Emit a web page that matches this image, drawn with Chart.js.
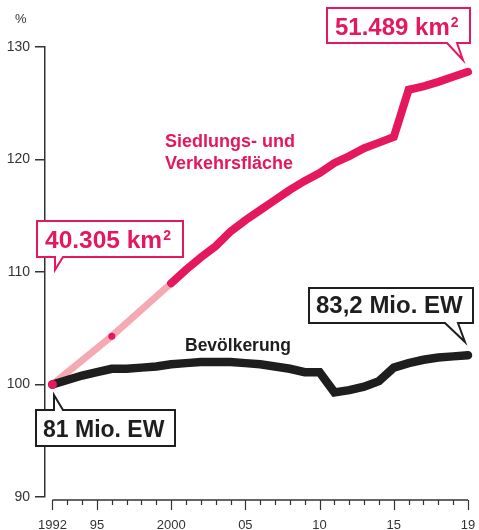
<!DOCTYPE html>
<html><head><meta charset="utf-8">
<script src="https://cdn.jsdelivr.net/npm/chart.js@4/dist/chart.umd.min.js"></script>
<style>html,body{margin:0;padding:0;background:#fff}#wrap{width:479px;height:530px}</style>
</head><body><div id="wrap"><canvas id="c" width="479" height="530"></canvas></div>
<script>
// ---- data (index 1992 = 100) ----
const popYears = [1992,1993,1994,1995,1996,1997,1998,1999,2000,2001,2002,2003,2004,2005,2006,2007,2008,2009,2010,2011,2012,2013,2014,2015,2016,2017,2018,2019,2020];
const popValues = [100.0,100.4,100.8,101.1,101.4,101.4,101.5,101.6,101.8,101.9,102.0,102.0,102.0,101.9,101.8,101.6,101.4,101.1,101.1,99.3,99.5,99.8,100.3,101.5,101.9,102.2,102.4,102.5,102.6];
const landYearsEarly = [1992,1996,2000];
const landValuesEarly = [100.0,104.3,109.0];
const landYears = [2000,2001,2002,2003,2004,2005,2006,2007,2008,2009,2010,2011,2012,2013,2014,2015,2016,2017,2018,2019,2020];
const landValues = [109.0,110.2,111.3,112.3,113.6,114.6,115.5,116.4,117.3,118.1,118.8,119.7,120.3,121.0,121.5,122.0,126.2,126.5,126.9,127.35,127.8];
const xTickValues = [1992,1995,2000,2005,2010,2015,2020];
const xTickLabels = ['1992','95','2000','05','10','15','19'];
const yTickValues = [90,100,110,120,130];

const PINK = '#E5175D', LIGHT = '#F5A9B0', DARK = '#1E1E1E', AXIS = '#333333';
const FAM = '"Liberation Sans", Arial, sans-serif';

const pts = (xs, ys) => xs.map((x, i) => ({x, y: ys[i]}));

function callout(ctx, o) {
  const L = o.L, T = o.T, R = o.L + o.W, B = o.T + o.H;
  ctx.save();
  ctx.beginPath();
  if (o.tail === 'bottom') {
    ctx.moveTo(L, T); ctx.lineTo(R, T); ctx.lineTo(R, B);
    ctx.lineTo(o.b, B); ctx.lineTo(o.tx, o.ty); ctx.lineTo(o.a, B);
    ctx.lineTo(L, B); ctx.closePath();
  } else {
    ctx.moveTo(L, T); ctx.lineTo(o.a, T); ctx.lineTo(o.tx, o.ty); ctx.lineTo(o.b, T);
    ctx.lineTo(R, T); ctx.lineTo(R, B); ctx.lineTo(L, B); ctx.closePath();
  }
  ctx.fillStyle = '#fff'; ctx.fill();
  ctx.lineWidth = 2; ctx.lineJoin = 'miter'; ctx.strokeStyle = o.color; ctx.stroke();
  ctx.fillStyle = o.color;
  ctx.textBaseline = 'alphabetic'; ctx.textAlign = 'left';
  ctx.font = 'bold ' + (o.size || 24) + 'px ' + FAM;
  ctx.fillText(o.text, o.textX, o.base);
  if (o.sup) {
    const w = ctx.measureText(o.text).width;
    ctx.font = 'bold 14px ' + FAM;
    ctx.fillText(o.sup, o.textX + w + 1, o.base - 8);
  }
  ctx.restore();
}

const deco = {
  id: 'deco',
  afterDraw(chart) {
    const ctx = chart.ctx, xs = chart.scales.x, ca = chart.chartArea;
    ctx.save();
    // x axis line + ticks
    const ay = ca.bottom + 3;
    ctx.strokeStyle = AXIS; ctx.lineWidth = 1.5;
    ctx.beginPath();
    ctx.moveTo(xs.getPixelForValue(popYears[0]), ay);
    ctx.lineTo(xs.getPixelForValue(popYears[popYears.length - 1]), ay);
    ctx.stroke();
    ctx.lineWidth = 1.2;
    popYears.forEach(yr => {
      const px = Math.round(xs.getPixelForValue(yr)) + 0.5;
      const len = xTickValues.includes(yr) ? 10 : 5;
      ctx.beginPath(); ctx.moveTo(px, ay); ctx.lineTo(px, ay + len); ctx.stroke();
    });
    // unit
    ctx.fillStyle = AXIS; ctx.font = '13px ' + FAM; ctx.textBaseline = 'alphabetic';
    ctx.fillText('%', 15, 23);
    // series labels
    ctx.fillStyle = PINK; ctx.font = 'bold 18px ' + FAM;
    ctx.fillText('Siedlungs- und', 165, 147);
    ctx.fillText('Verkehrsfläche', 165, 169);
    ctx.fillStyle = DARK; ctx.font = 'bold 17.5px ' + FAM;
    ctx.fillText('Bevölkerung', 185, 351);
    ctx.restore();
    // callouts
    callout(ctx, {L: 327, T: 8, W: 143, H: 35, tail: 'bottom', a: 447, b: 457, tx: 463, ty: 60, color: PINK, text: '51.489 km', sup: '2', textX: 335, base: 35});
    callout(ctx, {L: 37, T: 221, W: 146, H: 36, tail: 'bottom', a: 55, b: 63, tx: 55, ty: 270, color: PINK, text: '40.305 km', sup: '2', textX: 45, base: 248, size: 24.5});
    callout(ctx, {L: 36, T: 410, W: 139, H: 36, tail: 'top', a: 54, b: 63, tx: 54, ty: 395, color: DARK, text: '81 Mio. EW', textX: 43, base: 437, size: 23});
    callout(ctx, {L: 309, T: 288, W: 164, H: 35, tail: 'bottom', a: 445, b: 458, tx: 465, ty: 342, color: DARK, text: '83,2 Mio. EW', textX: 316, base: 313});
  }
};

new Chart(document.getElementById('c'), {
  type: 'line',
  data: {
    datasets: [
      {data: pts(landYearsEarly, landValuesEarly), borderColor: LIGHT, borderWidth: 7, pointRadius: 0, borderCapStyle: 'butt', clip: false, order: 4, tension: 0},
      {data: pts(landYears, landValues), borderColor: PINK, borderWidth: 8, pointRadius: 0, borderCapStyle: 'round', borderJoinStyle: 'miter', clip: false, order: 3, tension: 0},
      {data: pts(popYears, popValues), borderColor: DARK, borderWidth: 8.5, pointRadius: 0, borderCapStyle: 'round', borderJoinStyle: 'miter', clip: false, order: 2, tension: 0},
      {data: pts(landYearsEarly.slice(0, 2), landValuesEarly.slice(0, 2)), showLine: false, pointRadius: [4.5, 3.5], pointBackgroundColor: PINK, pointBorderWidth: 0, borderColor: PINK, clip: false, order: 1}
    ]
  },
  options: {
    responsive: false, devicePixelRatio: 1, animation: false,
    layout: {padding: {top: 47, right: 11, left: 0, bottom: 0}},
    plugins: {legend: {display: false}, tooltip: {enabled: false}},
    scales: {
      x: {
        type: 'linear', min: 1991.5, max: 2020,
        afterFit(s) { s.height = 33; s.paddingLeft = 0; s.paddingRight = 0; },
        afterBuildTicks(s) { s.ticks = xTickValues.map(v => ({value: v})); },
        ticks: {callback: v => xTickLabels[xTickValues.indexOf(v)], font: {size: 13, family: FAM}, color: AXIS, padding: 13, maxRotation: 0, autoSkip: false},
        grid: {display: false}, border: {display: false}
      },
      y: {
        min: 90, max: 130,
        afterFit(s) { s.width = 45; },
        afterBuildTicks(s) { s.ticks = yTickValues.map(v => ({value: v})); },
        ticks: {font: {size: 14, family: FAM}, color: AXIS, padding: 5},
        grid: {drawOnChartArea: false, tickLength: 10, color: AXIS, tickColor: AXIS, lineWidth: 1.5},
        border: {display: true, color: AXIS, width: 1.5}
      }
    }
  },
  plugins: [deco]
});
</script></body></html>
